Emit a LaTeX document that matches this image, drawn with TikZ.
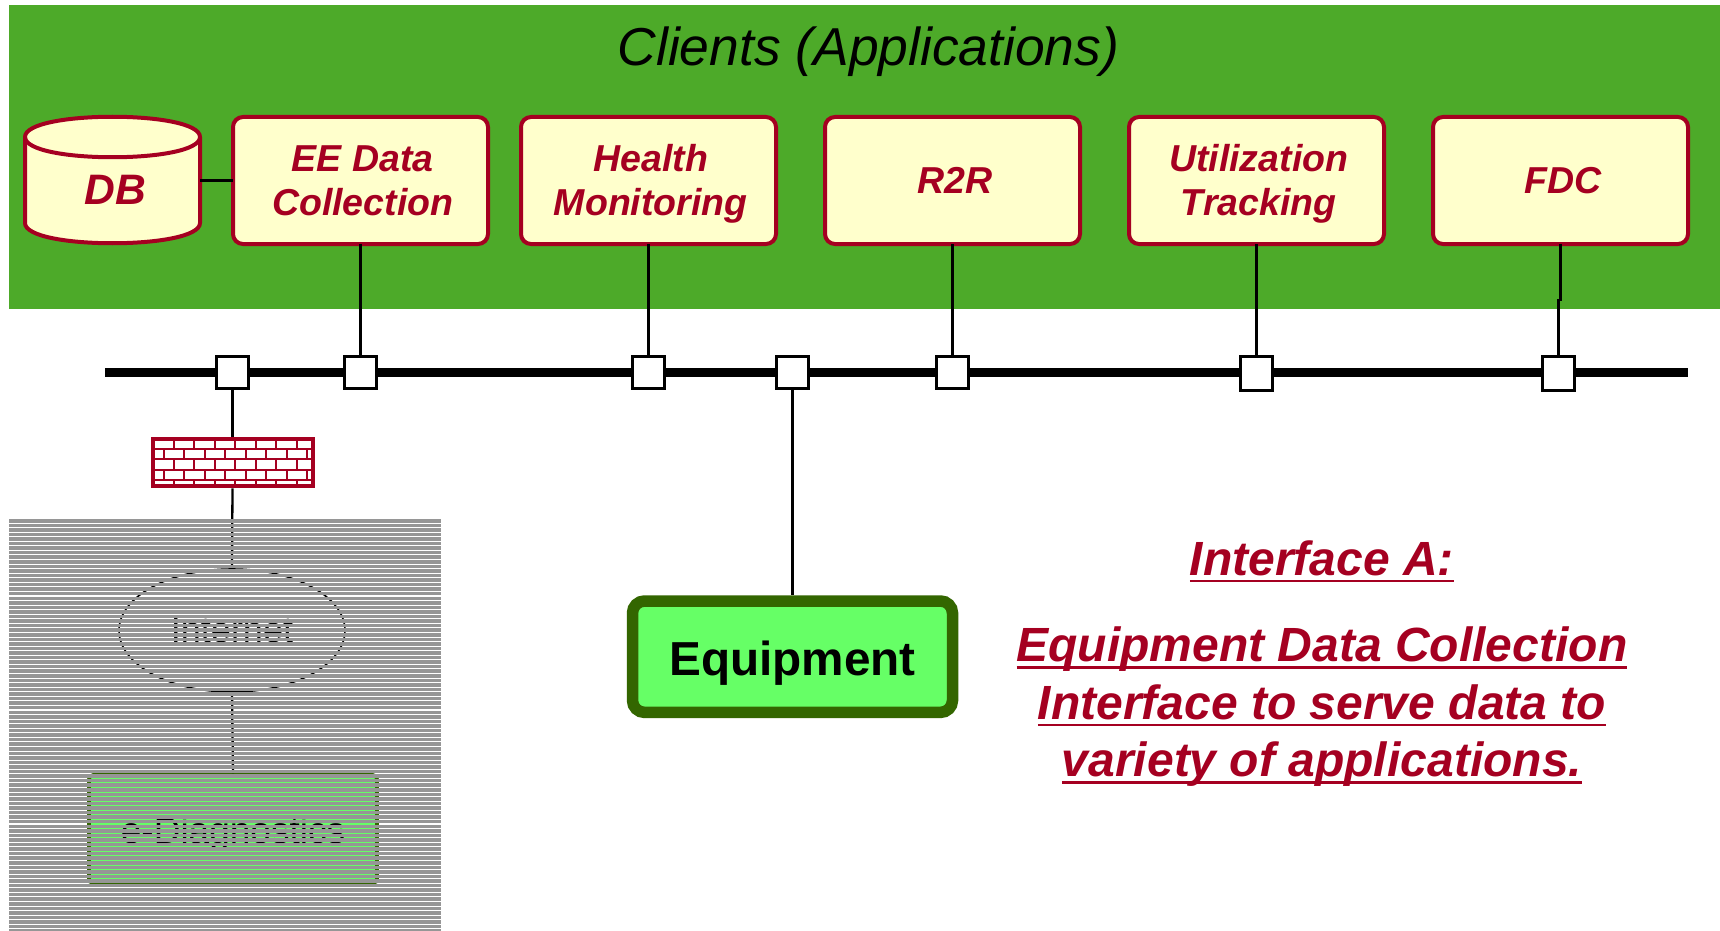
\documentclass[tikz,border=0pt]{standalone}
\usepackage{fontspec}
\usetikzlibrary{shapes.geometric}
\setmainfont{Liberation Sans}
\definecolor{brickred}{HTML}{A50021}
\definecolor{cream}{HTML}{FFFFCC}
\definecolor{topgreen}{HTML}{4DAA29}
\definecolor{eqdark}{HTML}{336600}
\definecolor{eqlight}{HTML}{66FF66}
\definecolor{stripe}{HTML}{969696}
\newcommand\ruled[1]{\setbox0\hbox{#1}\rlap{\rule[-3.7pt]{\wd0}{1.35pt}}\box0 }
\newcommand\appone[1]{\hspace*{2.2pt}\rule{0pt}{12.8pt}#1}
\newcommand\apptwo[2]{\hspace*{2.2pt}\rule{0pt}{20pt}#1\\\hspace*{2.2pt}#2\rule[-7.15pt]{0pt}{7.15pt}}
\tikzset{
  appbox/.style={draw=brickred,fill=cream,line width=2pt,rounded corners=5pt,
    minimum width=127.5pt,minimum height=63.5pt,inner sep=0pt,outer sep=0pt,align=center,
    text=brickred,font=\fontsize{18.75}{21.65}\selectfont\bfseries\itshape},
  tap/.style={draw=black,fill=white,line width=1.1pt,minimum width=16pt,minimum height=16pt,inner sep=0pt,outer sep=0pt},
  wire/.style={draw=black,line width=1.15pt},
  bus/.style={draw=black,line width=4.2pt},
  note/.style={text=brickred,inner sep=0pt,anchor=base,font=\fontsize{24}{28.5}\selectfont\bfseries\itshape},
  brickline/.style={draw=brickred,line width=1pt}
}
\begin{document}
\begin{tikzpicture}[x=0.5pt,y=-0.5pt]
\useasboundingbox (0,0) rectangle (1720,931);
\fill[white] (0,0) rectangle (1720,931);
\fill[topgreen] (9,5) rectangle (1720,309);
\node[inner sep=0pt,anchor=base,font=\fontsize{26.7}{30}\selectfont\itshape] (title) at (868.5,66) {Clients (Applications)};

% applications
\node[appbox] (ee) at (360.5,180.5) {\apptwo{EE Data}{Collection}};
\node[appbox] (hm) at (648.5,180.5) {\apptwo{Health}{Monitoring}};
\node[appbox] (rr) at (952.5,180.5) {\appone{R2R}};
\node[appbox] (ut) at (1256.5,180.5) {\apptwo{Utilization}{Tracking}};
\node[appbox] (fd) at (1560.5,180.5) {\appone{FDC}};

% database
\node[minimum width=87.5pt,minimum height=63.5pt,inner sep=0pt,outer sep=0pt] (db) at (112.5,180.5) {};
\draw[brickred,fill=cream,line width=2pt]
  (25,137) .. controls (25,110) and (200,110) .. (200,137)
  -- (200,223) .. controls (200,250) and (25,250) .. (25,223) -- cycle;
\draw[brickred,line width=2pt] (25,137) .. controls (25,164) and (200,164) .. (200,137);
\node[inner sep=0pt,anchor=base,text=brickred,font=\fontsize{21.3}{24}\selectfont\bfseries\itshape] (dbt) at (115.5,205) {DB};
\draw[wire,line width=1.6pt] (db.east) -- (ee.west);

% bus
\coordinate (busl) at (105,372.5);
\coordinate (busr) at (1688,372.5);
\draw[bus] (busl) -- (busr);
\node[tap] (t0) at (232.5,372.5) {};
\node[tap] (t1) at (360.5,372.5) {};
\node[tap] (t2) at (648.5,372.5) {};
\node[tap] (t3) at (792.5,372.5) {};
\node[tap] (t4) at (952.5,372.5) {};
\node[tap,minimum height=17pt] (t5) at (1256.5,373.5) {};
\node[tap,minimum height=17pt] (t6) at (1558.5,373.5) {};

\draw[wire] (ee.south) -- (t1.north);
\draw[wire] (hm.south) -- (t2.north);
\draw[wire] (rr.south) -- (t4.north);
\draw[wire] (ut.south) -- (t5.north);
\coordinate (jog) at (1560.5,300);
\draw[wire] (fd.south) -- (jog) -- (1558.5,300) -- (t6.north);

% firewall
\node[draw=brickred,fill=white,line width=2pt,minimum width=80pt,minimum height=23.8pt,inner sep=0pt,outer sep=1pt] (fw) at (232.5,462.5) {};
\foreach \yy in {449,459.3,469.7,480} \draw[brickline] (153,\yy) -- (312,\yy);
\foreach \xx in {174,194.4,215,235.4,256,276.4,296.8} {
  \draw[brickline] (\xx,439) -- (\xx,449);
  \draw[brickline] (\xx,459.3) -- (\xx,469.7);
  \draw[brickline] (\xx,480) -- (\xx,486);
}
\foreach \xx in {163.7,184,204.7,225,245.7,266,286.7,307} {
  \draw[brickline] (\xx,449) -- (\xx,459.3);
  \draw[brickline] (\xx,469.7) -- (\xx,480);
}
\draw[wire] (t0.south) -- (fw.north);

% equipment
\node[draw=eqdark,fill=eqlight,line width=5.75pt,rounded corners=6pt,minimum width=160pt,minimum height=55.7pt,
  inner sep=0pt,outer sep=2.9pt,font=\fontsize{23.85}{26}\selectfont\bfseries,text height=18.3pt,text depth=0pt] (eq) at (792.5,656.7) {Equipment};
\draw[wire] (t3.south) -- (eq.north);

% note
\node[note] (n1) at (1322,575) {\ruled{Interface A:}};
\node[note] (n2) at (1322,661.7) {\ruled{Equipment Data Collection}};
\node[note] (n3) at (1322,719) {\ruled{Interface to serve data to}};
\node[note] (n4) at (1322,776.7) {\ruled{variety of applications.}};

% veiled part
\node[draw=black,line width=0.8pt,ellipse,minimum width=113pt,minimum height=61.5pt,inner sep=0pt,outer sep=0pt,font=\fontsize{18}{20}\selectfont,text height=11.5pt,text depth=0pt] (inet) at (232,630.5) {Internet};
\node[draw=eqdark,fill=eqlight,line width=1.8pt,rounded corners=2pt,minimum width=144pt,minimum height=54pt,inner sep=0pt,outer sep=0.9pt,font=\fontsize{18.5}{20}\selectfont,text height=14.3pt,text depth=0pt] (ed) at (233,829) {e-Diagnostics};
\draw[wire] (fw.south) -- (inet.north);
\draw[wire] (inet.south) -- (ed.north);
\foreach \i in {0,...,90} {
  \pgfmathsetmacro{\ya}{519+4.56*\i}
  \pgfmathsetmacro{\yb}{\ya+3.5}
  \fill[stripe] (9,\ya) rectangle (441,\yb);
}
\end{tikzpicture}
\end{document}
